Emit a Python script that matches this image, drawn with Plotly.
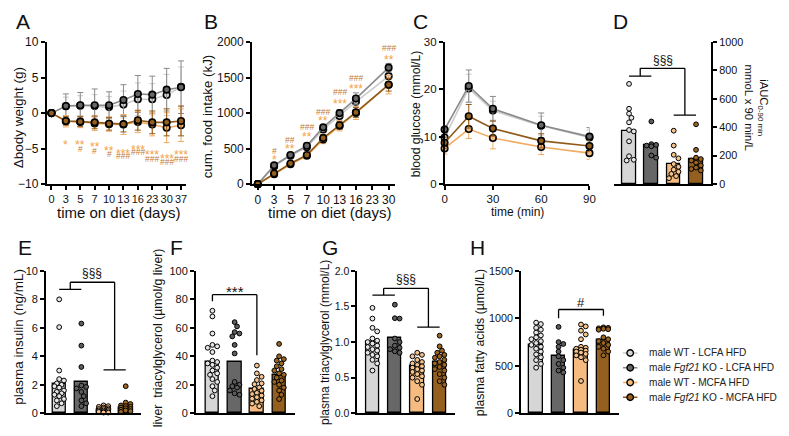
import plotly.graph_objects as go

# page: the browser adds an 8px body margin, so the figure is 16px smaller
OX, OY = 8, 8
FW, FH = 773, 420
FONT = "Liberation Sans, Arial, sans-serif"

# ---------------- data ----------------
group_names = ['male WT - LCFA HFD', 'male <i>Fgf21</i> KO - LCFA HFD',
               'male WT - MCFA HFD', 'male <i>Fgf21</i> KO - MCFA HFD']
fill_c = ['#d6d6d6', '#676767', '#f5bb80', '#95601f']
line_c = ['#cbcbcb', '#8a8a8a', '#f2ab62', '#8f5a1a']
dot_c = ['#e6e6e6', '#5c5c5c', '#f7c38c', '#9a6422']

# A: body weight change
a_days = ['0', '3', '5', '7', '10', '13', '16', '23', '30', '37']
a_mean = [
    [0, 0.95, 1.05, 1.0, 0.85, 1.2, 1.95, 1.95, 2.55, 3.7],
    [0, 1.0, 1.1, 1.1, 1.1, 1.85, 2.7, 2.6, 3.3, 3.65],
    [0, -1.15, -1.25, -1.45, -1.55, -1.6, -1.25, -1.6, -2.05, -1.7],
    [0, -1.1, -1.2, -1.3, -1.5, -1.55, -1.0, -1.3, -1.3, -1.1],
]
a_err = [
    [0, 1.3, 1.4, 1.6, 1.5, 1.9, 2.3, 2.2, 2.9, 2.8],
    [0, 1.7, 1.8, 2.3, 1.9, 2.15, 2.6, 2.6, 3.0, 3.7],
    [0, 0.8, 0.8, 1.0, 1.0, 1.4, 1.5, 1.6, 2.1, 2.3],
    [0, 0.6, 0.7, 0.9, 0.9, 1.1, 1.4, 1.6, 1.9, 2.1],
]
a_star_txt = ['', '*', '**', '**', '**', '***', '***', '***', '***', '***']
a_star_y = [None, -4.0, -4.0, -4.4, -4.9, -5.3, -4.7, -5.5, -6.1, -5.5]
a_hash_txt = ['', '', '#', '#', '#', '###', '###', '###', '###', '###']
a_hash_y = [None, None, -5.0, -5.3, -5.8, -6.1, -5.5, -6.45, -6.9, -6.4]

# B: cumulative food intake
b_ticks = ['0', '3', '5', '7', '10', '13', '16', '23', '30']
b_days = ['0', '3', '5', '7', '10', '13', '16', '30']
b_mean = [
    [0, 250, 400, 520, 770, 960, 1160, 1520],
    [0, 265, 410, 540, 800, 1000, 1205, 1640],
    [0, 140, 280, 400, 630, 820, 1000, 1400],
    [0, 150, 290, 410, 650, 830, 1010, 1400],
]
b_err = [
    [0, 20, 25, 30, 40, 45, 60, 70],
    [0, 25, 30, 40, 40, 50, 80, 60],
    [0, 20, 30, 40, 60, 70, 90, 130],
    [0, 20, 30, 35, 50, 55, 70, 90],
]
b_star_txt = ['', '*', '**', '**', '**', '***', '***', '**']
b_star_y = [None, 381, 540, 707, 925, 1170, 1378, 1786]
b_hash_txt = ['', '#', '##', '###', '###', '###', '###', '###']
b_hash_y = [None, 467, 622, 803, 1016, 1302, 1501, 1914]

# C: glucose tolerance
c_time = [0, 15, 30, 60, 90]
c_mean = [
    [9.8, 20.2, 15.5, 12.3, 9.8],
    [11.5, 20.7, 15.9, 12.4, 10.0],
    [7.5, 11.6, 9.7, 7.8, 6.5],
    [8.7, 14.3, 11.7, 9.1, 8.0],
]
c_err = [
    [1.2, 3.0, 2.0, 2.0, 1.6],
    [0.8, 3.4, 2.6, 2.6, 1.9],
    [1.2, 2.0, 2.3, 1.6, 1.3],
    [1.2, 2.5, 1.6, 1.5, 1.2],
]

# D-H: bar panels (bar mean + individual values)
d_bar = [370, 272, 142, 172]
d_pts = [
    [705, 530, 495, 466, 434, 380, 370, 300, 195, 170, 165],
    [440, 280, 275, 270, 265, 200, 185],
    [375, 270, 205, 180, 140, 120, 100, 85, 70, 55, 40],
    [420, 240, 185, 175, 165, 150, 130, 115, 105, 95],
]
e_bar = [2.05, 2.2, 0.25, 0.4]
e_pts = [
    [8.0, 6.05, 3.0, 2.4, 2.3, 2.1, 2.0, 1.9, 1.8, 1.6, 1.5, 1.4, 1.3, 1.2, 1.0, 0.9, 0.7, 0.5],
    [6.3, 4.75, 3.25, 1.95, 1.85, 1.75, 1.5, 1.2, 0.9, 0.7, 0.5],
    [0.55, 0.5, 0.45, 0.4, 0.35, 0.3, 0.3, 0.25, 0.2, 0.2, 0.15, 0.1, 0.1, 0.05, 0.05],
    [1.9, 0.75, 0.65, 0.55, 0.5, 0.45, 0.4, 0.35, 0.3, 0.25, 0.2, 0.15, 0.1],
]
f_bar = [36, 36, 17.2, 27]
f_pts = [
    [72, 68, 56, 48, 47, 46, 43, 37, 36, 35, 34, 32, 30, 28, 27, 24, 22, 19, 16, 12],
    [64, 61, 57, 56, 54, 48, 42, 22, 20, 19, 18, 16, 14, 13],
    [33.5, 28, 25.6, 23.3, 21, 20.4, 18.1, 17, 15.8, 14.3, 13.5, 12.4, 11.3, 10.2, 9.1, 8, 6.8, 5],
    [48.7, 40, 38, 37, 35, 33, 31, 30, 28, 27, 25, 23, 22, 20, 18, 16, 13, 10],
]
g_bar = [1.0, 1.055, 0.67, 0.72]
g_pts = [
    [1.48, 1.33, 1.2, 1.15, 1.05, 1.02, 1.0, 0.98, 0.95, 0.93, 0.9, 0.88, 0.85, 0.82, 0.8, 0.75, 0.7, 0.6],
    [1.525, 1.335, 1.33, 1.05, 1.0, 0.95, 0.92, 0.9, 0.87, 0.85],
    [0.85, 0.82, 0.8, 0.75, 0.72, 0.7, 0.68, 0.66, 0.64, 0.62, 0.6, 0.58, 0.55, 0.52, 0.5, 0.45, 0.4, 0.2],
    [1.09, 0.94, 0.88, 0.85, 0.82, 0.8, 0.78, 0.75, 0.72, 0.7, 0.68, 0.65, 0.62, 0.6, 0.55, 0.5, 0.45, 0.4],
]
h_bar = [719, 607, 668, 774]
h_pts = [
    [955, 940, 900, 880, 850, 820, 800, 780, 760, 740, 720, 700, 680, 650, 620, 590, 560, 520, 480],
    [910, 750, 730, 700, 650, 600, 560, 520, 480, 450, 430],
    [935, 915, 870, 830, 780, 700, 690, 680, 670, 660, 650, 640, 625, 610, 590, 560, 340],
    [905, 900, 895, 890, 885, 880, 800, 780, 760, 740, 720, 700, 680, 650, 610],
]

# ---------------- layout helpers ----------------
fig = go.Figure()


def px_x(x):
    return (x - OX) / FW


def px_y(y):
    return 1 - (y - OY) / FH


def axis(size=11, **kw):
    d = dict(showline=True, linecolor='black', linewidth=1.5, ticks='outside',
             ticklen=4, tickwidth=1.5, tickcolor='black', showgrid=False,
             zeroline=False, tickfont=dict(size=size, color='#111', family=FONT),
             fixedrange=True, tickangle=0)
    d.update(kw)
    return d


panels = {
    'A': (44, 185, 36, 183),
    'B': (251.7, 396.7, 36, 183),
    'C': (446.7, 593.3, 36, 182.7),
    'D': (618.3, 716.7, 36, 182.7),
    'E': (43.3, 140, 272.7, 420),
    'F': (195, 295, 272.7, 420),
    'G': (358.3, 457.3, 272.7, 420),
    'H': (524, 623.3, 272.7, 420),
    'L': (627, 642, 350, 411),   # legend symbol area
}
ax_id = {k: i + 1 for i, k in enumerate('ABCDEFGHL')}

lay = {}
for k, (x0, x1, y0, y1) in panels.items():
    i = ax_id[k]
    lay['xaxis%d' % i] = dict(domain=[px_x(x0), px_x(x1)], anchor='y%d' % i)
    lay['yaxis%d' % i] = dict(domain=[px_y(y1), px_y(y0)], anchor='x%d' % i)

lay['xaxis1'].update(axis(11, type='category', categoryorder='array', categoryarray=a_days,
                          range=[-0.34, 9.34]))
lay['yaxis1'].update(axis(12, range=[-10, 10], tickvals=[-10, -5, 0, 5, 10]))
lay['xaxis2'].update(axis(12, type='category', categoryorder='array', categoryarray=b_ticks,
                          range=[-0.36, 8.4]))
lay['yaxis2'].update(axis(12, range=[0, 2000], tickvals=[0, 500, 1000, 1500, 2000]))
lay['xaxis3'].update(axis(11.5, range=[0, 90], tickvals=[0, 30, 60, 90]))
lay['yaxis3'].update(axis(11.5, range=[0, 30], tickvals=[0, 10, 20, 30]))
lay['xaxis9'].update(dict(range=[0, 1], visible=False, fixedrange=True))
lay['yaxis9'].update(dict(range=[3.5, -0.5], visible=False, fixedrange=True))

bar_ranges = {'D': [-0.665, 3.69], 'E': [-0.6, 3.71], 'F': [-0.747, 3.70],
              'G': [-0.68, 3.69], 'H': [-0.675, 3.70]}
bar_y = {'D': ([0, 1000], [0, 200, 400, 600, 800, 1000], None),
         'E': ([0, 10], [0, 2, 4, 6, 8, 10], None),
         'F': ([0, 100], [0, 20, 40, 60, 80, 100], None),
         'G': ([0, 2], [0, 0.5, 1.0, 1.5, 2.0], '.1f'),
         'H': ([0, 1500], [0, 500, 1000, 1500], None)}
for k in 'DEFGH':
    i = ax_id[k]
    lay['xaxis%d' % i].update(axis(range=bar_ranges[k], ticks='', showticklabels=False))
    rng, tv, fmt = bar_y[k]
    yk = axis(10.8 if k in 'DH' else 11, range=rng, tickvals=tv)
    if fmt:
        yk['tickformat'] = fmt
        yk['tickfont']['size'] = 10.5
    if k == 'D':
        yk['side'] = 'right'
    lay['yaxis%d' % i].update(yk)

# ---------------- line panels ----------------
for gi in range(4):
    common = dict(mode='lines+markers', cliponaxis=False, showlegend=False,
                  line=dict(color=line_c[gi], width=1.6),
                  marker=dict(size=6.5, color=fill_c[gi], line=dict(color='black', width=1.6)))
    fig.add_trace(go.Scatter(x=a_days, y=a_mean[gi], xaxis='x1', yaxis='y1',
                             name=group_names[gi],
                             error_y=dict(type='data', array=a_err[gi], color=line_c[gi],
                                          thickness=1, width=3),
                             **common))
    fig.add_trace(go.Scatter(x=b_days, y=b_mean[gi], xaxis='x2', yaxis='y2',
                             name=group_names[gi],
                             error_y=dict(type='data', array=b_err[gi], color=line_c[gi],
                                          thickness=1, width=3),
                             **common))
    fig.add_trace(go.Scatter(x=c_time, y=c_mean[gi], xaxis='x3', yaxis='y3',
                             name=group_names[gi],
                             error_y=dict(type='data', array=c_err[gi], color=line_c[gi],
                                          thickness=1, width=3),
                             **common))


# ---------------- bar panels ----------------
def swarm(vals, ppu_y, ppu_x, d=4.8, maxw=5.5):
    order = sorted(range(len(vals)), key=lambda i: -vals[i])
    cand = [0.0]
    step = d * 0.5
    k = 1
    while k * step <= maxw:
        cand += [k * step, -k * step]
        k += 1
    placed = []
    offs = [0.0] * len(vals)
    for i in order:
        yp = vals[i] * ppu_y
        best, bestc, bestov = None, 0.0, 1e9
        for c in cand:
            ov = sum(max(0.0, d - ((c - px) ** 2 + (yp - py) ** 2) ** 0.5) for px, py in placed)
            if ov < 1e-9:
                best = c
                break
            if ov < bestov:
                bestov, bestc = ov, c
        if best is None:
            best = bestc
        placed.append((best, yp))
        offs[i] = best / ppu_x
    return offs


bar_data = {'D': (d_bar, d_pts), 'E': (e_bar, e_pts), 'F': (f_bar, f_pts),
            'G': (g_bar, g_pts), 'H': (h_bar, h_pts)}
for k, (bars, pts) in bar_data.items():
    i = ax_id[k]
    x0, x1, y0, y1 = panels[k]
    r = bar_ranges[k]
    ppu_x = (x1 - x0) / (r[1] - r[0])
    rng = bar_y[k][0]
    ppu_y = (y1 - y0) / (rng[1] - rng[0])
    fig.add_trace(go.Bar(x=[0, 1, 2, 3], y=bars, width=0.6, xaxis='x%d' % i, yaxis='y%d' % i,
                         marker=dict(color=fill_c, line=dict(color='black', width=1.3)),
                         showlegend=False, hoverinfo='skip'))
    for gi in range(4):
        offs = swarm(pts[gi], ppu_y, ppu_x)
        fig.add_trace(go.Scatter(x=[gi + o for o in offs], y=pts[gi], mode='markers',
                                 xaxis='x%d' % i, yaxis='y%d' % i, showlegend=False,
                                 cliponaxis=False,
                                 marker=dict(size=4.8, color=dot_c[gi],
                                             line=dict(color='black', width=1))))

# ---------------- legend (drawn on a hidden axis) ----------------
for gi in range(4):
    fig.add_trace(go.Scatter(x=[0, 1], y=[gi, gi], mode='lines', xaxis='x9', yaxis='y9',
                             line=dict(color=line_c[gi], width=1.6), showlegend=False,
                             hoverinfo='skip', cliponaxis=False))
    fig.add_trace(go.Scatter(x=[0.5], y=[gi], mode='markers', xaxis='x9', yaxis='y9',
                             marker=dict(size=6.5, color=fill_c[gi],
                                         line=dict(color='black', width=1.4)),
                             showlegend=False, hoverinfo='skip', cliponaxis=False))

# ---------------- annotations ----------------
ann = []
shapes = []


def txt(x, y, s, size=12, angle=0, color='#111', **kw):
    d = dict(x=px_x(x), y=px_y(y), xref='paper', yref='paper', text=s, showarrow=False,
             textangle=angle, font=dict(size=size, color=color, family=FONT),
             xanchor='center', yanchor='middle')
    d.update(kw)
    ann.append(d)


for gi in range(4):
    ann.append(dict(x=px_x(651), y=gi, xref='paper', yref='y9', text=group_names[gi],
                    showarrow=False, xanchor='left', yanchor='middle',
                    font=dict(size=10.1, color='#222', family=FONT)))

# panel letters
for L, (x, y) in {'A': (20, 15), 'B': (210, 15), 'C': (422, 15), 'D': (625, 15),
                  'E': (22, 248), 'F': (175, 248), 'G': (331, 248), 'H': (480, 248)}.items():
    txt(x, y, L, size=21)

# axis titles
txt(16, 114, 'Δbody weight (g)', size=13.5, angle=-90)
txt(116.5, 212, 'time on diet (days)', size=15)
txt(207, 113, 'cum. food intake (kJ)', size=13.3, angle=-90)
txt(330, 212, 'time on diet (days)', size=15)
txt(417.5, 110, 'blood glucose (mmol/L)', size=12.2, angle=-90)
txt(520, 212, 'time (min)', size=12)
txt(762, 104, 'iAUC<sub>0-90 min</sub><br>mmoL x 90 min/L', size=11.3, angle=90)
txt(16, 341, 'plasma insulin (ng/mL)', size=13.5, angle=-90)
txt(157, 342, 'liver\u00a0 triacylglycerol (µmol/g liver)', size=12.3, angle=-90)
txt(325, 347, 'plasma triacylglycerol (mmol/L)', size=12, angle=-90)
txt(482, 347, 'plasma fatty acids (µmol/L)', size=12.3, angle=-90)

STAR_C = '#f4a143'
HASH_C = '#c27a36'
for j in range(len(a_days)):
    if a_star_txt[j]:
        ann.append(dict(x=j, y=a_star_y[j], xref='x1', yref='y1', text=a_star_txt[j],
                        showarrow=False, yshift=-3, font=dict(size=12, color=STAR_C, family=FONT)))
    if a_hash_txt[j]:
        ann.append(dict(x=j, y=a_hash_y[j], xref='x1', yref='y1', text=a_hash_txt[j],
                        showarrow=False, font=dict(size=8.5, color=HASH_C, family=FONT)))
for j in range(len(b_days)):
    xi = b_ticks.index(b_days[j])
    if b_star_txt[j]:
        ann.append(dict(x=xi, y=b_star_y[j], xref='x2', yref='y2', text=b_star_txt[j],
                        showarrow=False, yshift=-3, font=dict(size=12, color=STAR_C, family=FONT)))
    if b_hash_txt[j]:
        ann.append(dict(x=xi, y=b_hash_y[j], xref='x2', yref='y2', text=b_hash_txt[j],
                        showarrow=False, font=dict(size=8.5, color=HASH_C, family=FONT)))


def seg(i, xa, ya, xb, yb):
    shapes.append(dict(type='line', xref='x%d' % i, yref='y%d' % i, x0=xa, y0=ya, x1=xb, y1=yb,
                       line=dict(color='black', width=1.3)))


pair_brackets = {'D': (760, 815, 485, 877), 'E': (8.7, 9.2, 3.05, 9.84),
                 'G': (1.66, 1.755, 1.21, 1.89)}
for k, (yl, yt, yr, ytxt) in pair_brackets.items():
    i = ax_id[k]
    seg(i, 0, yl, 1, yl)
    seg(i, 0.5, yl, 0.5, yt)
    seg(i, 0.5, yt, 2.5, yt)
    seg(i, 2.5, yt, 2.5, yr)
    seg(i, 2, yr, 3, yr)
    ann.append(dict(x=1.5, y=ytxt, xref='x%d' % i, yref='y%d' % i, text='§§§', showarrow=False,
                    font=dict(size=12, color='#111', family=FONT)))

single_brackets = {'F': (0, 2, 78.7, 83.3, 40.7, '***', 87.8),
                   'H': (1, 3, 1001, 1093, 1028, '#', 1171)}
for k, (ba, bb, ya, yt, yb, lab, ylab) in single_brackets.items():
    i = ax_id[k]
    seg(i, ba, ya, ba, yt)
    seg(i, ba, yt, bb, yt)
    seg(i, bb, yt, bb, yb)
    ann.append(dict(x=(ba + bb) / 2, y=ylab, xref='x%d' % i, yref='y%d' % i, text=lab,
                    showarrow=False, yshift=-3 if lab.startswith('*') else 0,
                    font=dict(size=15 if lab.startswith('*') else 13, color='#111', family=FONT)))

fig.update_layout(
    width=FW, height=FH, margin=dict(l=0, r=0, t=0, b=0),
    paper_bgcolor='white', plot_bgcolor='white',
    font=dict(family=FONT, color='#111'),
    showlegend=False,
    annotations=ann, shapes=shapes, bargap=0,
    **lay,
)

fig.write_html("out.html", config={'displayModeBar': False})
